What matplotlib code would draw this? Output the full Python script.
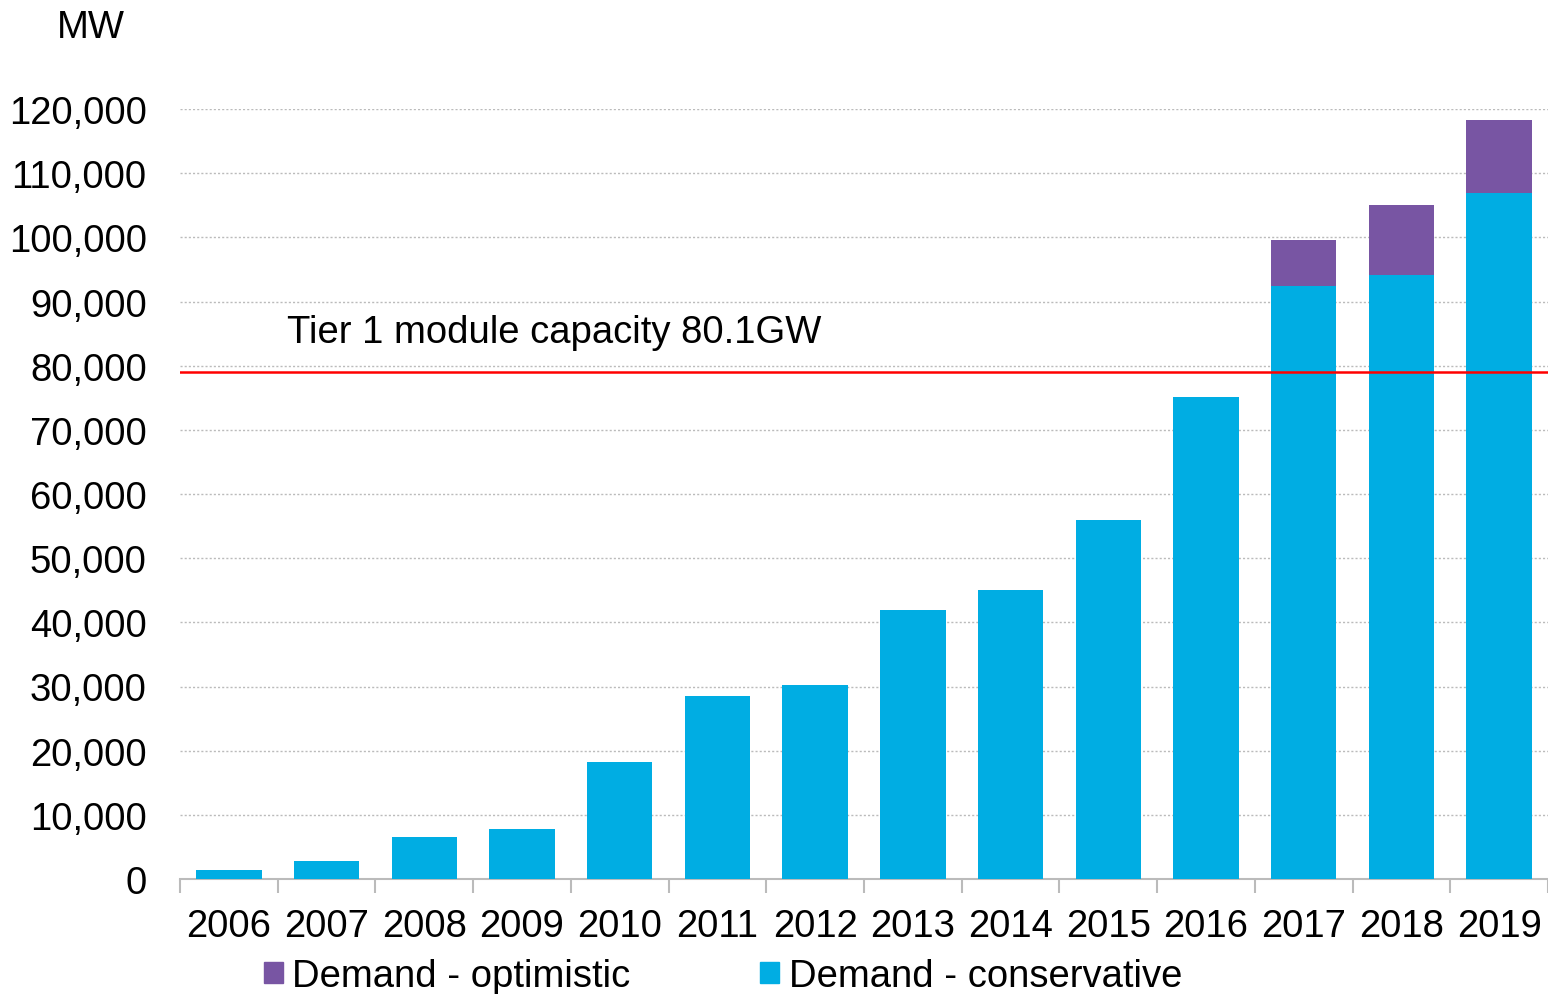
import numpy as np
import matplotlib.pyplot as plt
from matplotlib.ticker import FuncFormatter, FixedLocator
from matplotlib.patches import Rectangle

plt.rcParams['font.family'] = ['Liberation Sans', 'DejaVu Sans']

years = ["2006", "2007", "2008", "2009", "2010", "2011", "2012",
         "2013", "2014", "2015", "2016", "2017", "2018", "2019"]
conservative = [1400, 2800, 6500, 7800, 18200, 28500, 30200,
                41900, 45000, 55900, 75100, 92400, 94100, 106900]
optimistic_extra = [0, 0, 0, 0, 0, 0, 0, 0, 0, 0, 0, 7200, 10900, 11400]
tier1_line = 79000

blue = "#00ADE3"
purple = "#7855A3"
fs = 27.5

fig = plt.figure(figsize=(15.48, 9.95), dpi=100)
ax = fig.add_axes([180 / 1548, 1 - 880 / 995, 1 - 180 / 1548, (880 - 110) / 995])

x = np.arange(len(years))
ax.bar(x, conservative, width=0.67, color=blue, zorder=3)
ax.bar(x, optimistic_extra, bottom=conservative, width=0.67, color=purple, zorder=3)

ax.axhline(tier1_line, color="#FF0000", lw=1.8, zorder=4)
ax.text(0.6, 85200, "Tier 1 module capacity 80.1GW", fontsize=fs, va="center", ha="left")

ax.set_xlim(-0.5, len(years) - 0.5)
ax.set_ylim(0, 120000)
ax.set_yticks(np.arange(0, 120001, 10000))
ax.yaxis.set_major_formatter(FuncFormatter(lambda v, p: f"{int(v):,}"))
ax.grid(axis="y", color="#BBBBBB", lw=1.0, ls=(0, (1.5, 1.5)), zorder=0)

ax.set_xticks(x)
ax.set_xticklabels(years)
ax.xaxis.set_minor_locator(FixedLocator(np.arange(-0.5, len(years), 1)))
ax.tick_params(axis="x", which="major", length=0, labelsize=fs, pad=21)
ax.tick_params(axis="x", which="minor", length=10, width=1.5, color="#BBBBBB")
ax.tick_params(axis="y", length=0, labelsize=fs, pad=24)

for s in ["top", "right", "left"]:
    ax.spines[s].set_visible(False)
ax.spines["bottom"].set_color("#BBBBBB")
ax.spines["bottom"].set_linewidth(1.5)

fig.text(57 / 1548, 1 - 28 / 995, "MW", fontsize=fs, va="center", ha="left")

# legend
handles = [Rectangle((0, 0), 1, 1, color=purple), Rectangle((0, 0), 1, 1, color=blue)]
fig.legend(handles, ["Demand - optimistic", "Demand - conservative"],
           loc="center", bbox_to_anchor=(723 / 1548, 1 - 977 / 995), ncol=2,
           frameon=False, fontsize=fs, handlelength=0.5, handleheight=0.5,
           handletextpad=0.25, columnspacing=3.4)

fig.savefig("out.png", dpi=100)
